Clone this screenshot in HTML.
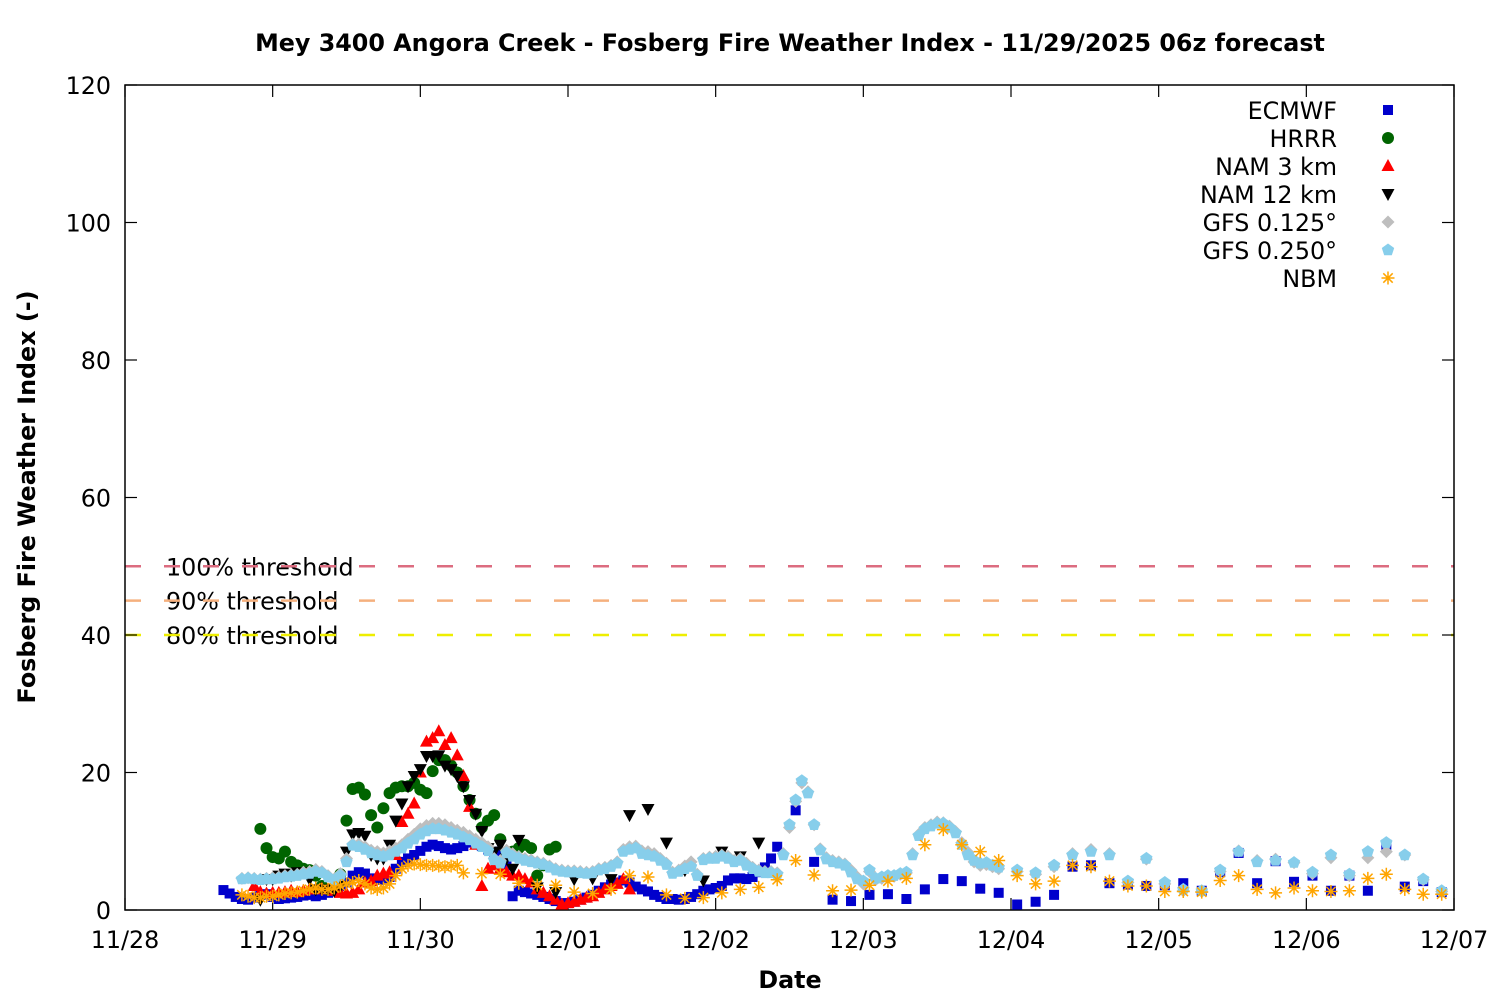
<!DOCTYPE html>
<html><head><meta charset="utf-8"><style>
html,body{margin:0;padding:0;background:#fff}
svg{display:block;font-family:"DejaVu Sans","Liberation Sans",sans-serif}
</style></head><body>
<svg id="chart" width="1500" height="1000" viewBox="0 0 1500 1000">
<rect x="0" y="0" width="1500" height="1000" fill="#fff"/>
<text x="790" y="51" text-anchor="middle" font-size="23.8" font-weight="bold">Mey 3400 Angora Creek - Fosberg Fire Weather Index - 11/29/2025 06z forecast</text>
<text x="790" y="988" text-anchor="middle" font-size="23.8" font-weight="bold">Date</text>
<text transform="translate(35,497) rotate(-90)" text-anchor="middle" font-size="23.8" font-weight="bold">Fosberg Fire Weather Index (-)</text>
<g id="grid"></g>
<g id="marks"></g>
<g id="legend"></g>
</svg>
<script>
// ---- data (hours since 11/28 00:00) ----
const xTickLabels = ["11/28","11/29","11/30","12/01","12/02","12/03","12/04","12/05","12/06","12/07"];
const yTickValues = [0,20,40,60,80,100,120];
const thresholdValues = [50,45,40];
const thresholdLabels = ["100% threshold","90% threshold","80% threshold"];
const seriesNames = ["ECMWF","HRRR","NAM 3 km","NAM 12 km","GFS 0.125°","GFS 0.250°","NBM"];

const ecmwfHourlyStart = 16;
const ecmwfHourly = [2.9,2.4,1.9,1.6,1.5,1.8,2.2,2.3,1.9,1.6,1.7,1.8,1.9,2.1,2.2,2.0,2.2,2.5,2.8,3.5,4.0,5.0,5.5,5.3,4.6,4.4,4.4,4.8,6.0,7.0,7.5,8.0,8.6,9.2,9.5,9.3,9.0,8.8,9.0,9.3,9.8,9.6,9.3,8.8,8.5,8.0,6.5,2.0,2.8,2.6,2.4,2.2,1.9,1.6,1.3,1.0,1.0,1.2,1.5,1.8,2.2,2.8,3.3,3.7,4.0,4.3,4.0,3.4,3.0,2.7,2.2,1.9,1.6,1.6,1.5,1.6,1.9,2.3,2.8,3.0,3.2,3.5,4.3,4.6,4.6,4.5,4.8,5.5,6.2,7.5,9.2];
const ecmwf3hStart = 109;
const ecmwf3h = [14.5,7.0,1.5,1.3,2.2,2.3,1.6,3.0,4.5,4.2,3.1,2.5,0.8,1.2,2.2,6.3,6.5,3.9,3.7,3.5,3.6,3.9,2.8,5.5,8.3,3.9,7.1,4.1,5.0,2.8,5.0,2.8,9.5,3.4,4.2,2.6];

const hrrrStart = 22;
const hrrr = [11.8,9.0,7.7,7.5,8.5,7.0,6.5,6.0,5.8,5.0,3.5,3.0,3.2,5.2,13.0,17.6,17.8,16.8,13.8,12.0,14.8,17.0,17.8,18.0,18.0,18.5,17.5,17.0,20.2,21.8,21.8,21.0,20.0,18.0,16.0,14.0,12.0,13.0,13.8,10.3,8.0,8.5,9.0,9.5,9.0,5.0,6.5,8.8,9.2];

const nam3Start = 21;
const nam3 = [3.5,2.6,2.4,2.5,2.5,2.6,2.8,2.6,2.8,3.0,3.0,3.1,3.0,2.8,2.5,2.4,2.5,3.0,4.0,4.2,5.0,5.3,5.5,8.0,12.8,14.0,15.5,20.0,24.5,25.0,26.0,24.0,25.0,22.5,19.5,15.0,9.5,3.5,6.0,6.5,6.0,5.5,5.0,5.0,4.5,4.0,3.0,2.5,2.0,1.5,0.8,1.0,1.2,1.5,1.8,2.0,2.5,3.0,3.5,3.8,4.5,3.0];

const nam12HourlyStart = 22;
const nam12Hourly = [1.5,4.5,4.5,5.0,5.3,5.0,5.5,5.5,4.5,3.0,3.0,3.0,2.8,3.5,8.5,11.0,11.2,10.8,8.0,7.5,7.5,9.5,13.0,15.5,18.0,19.5,20.5,22.4,22.4,22.5,21.0,20.5,19.5,18.0,16.0,14.0,11.5,9.0,8.5,9.5,7.5,6.0];
const nam12_3hStart = 64;
const nam12_3h = [10.2,3.3,2.6,4.5,4.6,4.5,13.8,14.7,9.8,5.8,4.3,8.5,7.8,9.8];

const gfs125HourlyStart = 19;
const gfs125Hourly = [4.6,4.7,4.6,4.5,4.6,4.7,4.8,5.0,5.1,5.2,5.5,5.6,5.9,5.6,5.0,4.5,5.3,7.5,9.6,9.6,9.2,8.7,8.5,8.3,8.6,9.0,9.5,10.3,11.0,11.8,12.3,12.6,12.6,12.4,12.0,11.6,11.3,10.8,10.3,9.8,9.2,7.5,7.2,8.7,8.2,7.8,7.5,7.3,7.0,6.8,6.4,6.0,5.8,5.7,5.7,5.6,5.5,5.6,6.0,6.2,6.5,7.0,8.8,9.2,9.3,8.6,8.5,8.2,7.5,6.8,5.5,5.8,6.4,7.0,5.2,7.5,7.7,7.8,8.0,7.8,7.2,7.5,6.8,6.2,5.8,5.6,5.6,5.4,8.2,12.0,15.8,18.5,17.2,12.4,8.9,7.6,7.2,7.0,6.7,5.8,4.8,3.8,5.6,4.4,4.6,4.8,4.9,5.2,5.4,8.2,11.0,12.0,12.4,12.8,12.7,12.2,11.4,9.8,8.4,7.0,6.5,6.6,6.3,6.0];
const gfs125_3hStart = 145;
const gfs125_3h = [5.6,5.2,6.3,8.2,8.8,8.2,4.0,7.4,3.8,2.8,2.7,5.6,8.6,7.2,7.4,6.9,5.3,7.6,5.0,7.6,8.5,8.0,4.4,2.7];

const gfs25HourlyStart = 19;
const gfs25Hourly = [4.5,4.6,4.5,4.4,4.5,4.5,4.6,4.8,4.9,5.0,5.2,5.3,5.6,5.4,4.8,4.3,5.0,7.0,9.4,9.2,8.8,8.3,8.0,7.8,8.0,8.5,9.0,9.7,10.3,11.0,11.5,11.8,11.8,11.6,11.3,11.0,10.6,10.2,9.7,9.2,8.6,7.3,6.8,8.3,7.8,7.5,7.2,7.0,6.8,6.6,6.2,5.8,5.6,5.5,5.5,5.4,5.3,5.4,5.8,6.0,6.3,6.8,8.5,8.8,9.0,8.2,8.0,7.8,7.2,6.6,5.3,5.6,6.0,6.3,5.0,7.3,7.5,7.5,7.8,7.5,7.0,7.2,6.5,6.0,5.6,5.4,5.4,5.2,8.0,12.4,16.0,18.8,17.0,12.4,8.7,7.4,7.0,6.8,6.5,5.5,4.5,4.2,5.8,4.6,4.8,5.0,5.0,5.3,5.5,8.0,10.8,11.8,12.2,12.6,12.6,12.0,11.2,9.5,8.0,7.2,6.8,6.9,6.5,6.2];
const gfs25_3hStart = 145;
const gfs25_3h = [5.8,5.4,6.5,8.0,8.5,8.0,4.2,7.5,4.0,3.0,2.8,5.8,8.5,7.0,7.2,6.9,5.5,8.0,5.2,8.5,9.8,8.0,4.5,2.8];

const nbmHourlyStart = 19;
const nbmHourly = [2.2,2.0,1.8,1.8,2.0,2.0,2.2,2.4,2.5,2.6,2.8,3.0,3.2,3.0,3.0,3.2,3.5,3.8,4.0,4.3,3.8,3.2,3.0,3.2,3.8,5.0,6.0,6.5,6.7,6.6,6.5,6.5,6.4,6.3,6.4,6.5];
const nbm3hStart = 55;
const nbm3h = [5.4,5.3,5.2,3.9,3.6,3.6,2.6,2.4,3.0,5.0,4.8,2.2,1.7,1.8,2.5,3.0,3.3,4.4,7.2,5.1,2.8,2.9,3.6,4.2,4.6,9.5,11.7,9.5,8.5,7.2,5.0,3.8,4.2,6.5,6.3,4.2,3.5,3.5,2.7,2.7,2.6,4.3,5.0,3.0,2.5,3.2,2.8,2.7,2.8,4.6,5.2,3.0,2.3,2.3];

// ---- axes ----
const X0=125, X1=1454, Y0=910, Y1=85, HMAX=216, VMAX=120;
const xScale = h => X0 + (X1-X0)*h/HMAX;
const yScale = v => Y0 - (Y0-Y1)*v/VMAX;
const FS=23.8;
const NS="http://www.w3.org/2000/svg";
function mk(tag, attrs, parent){const e=document.createElementNS(NS,tag);for(const k in attrs)e.setAttribute(k,attrs[k]);parent.appendChild(e);return e;}
const grid=document.getElementById('grid'), marks=document.getElementById('marks'), legend=document.getElementById('legend');

// thresholds
const thrColors=["#dc6c80","#f5b07e","#eeee00"];
thresholdValues.forEach((v,i)=>{
  const y=yScale(v);
  const t=mk('text',{x:166,y:y+9,'font-size':FS},grid);
  t.textContent=thresholdLabels[i];
  
  
  const l=mk('line',{x1:X0,x2:X1,y1:y,y2:y,stroke:thrColors[i],'stroke-width':2.5,'stroke-dasharray':'16 23'},grid);
  
  
});

// frame
const fr=mk('rect',{x:X0,y:Y1,width:X1-X0,height:Y0-Y1,fill:'none',stroke:'#000','stroke-width':1.5},grid);



yTickValues.forEach(v=>{
  const y=yScale(v);
  mk('line',{x1:X0,x2:X0+12,y1:y,y2:y,stroke:'#000','stroke-width':1.2},grid);
  mk('line',{x1:X1-12,x2:X1,y1:y,y2:y,stroke:'#000','stroke-width':1.2},grid);
  const t=mk('text',{x:111,y:y+9,'text-anchor':'end','font-size':FS},grid);
  t.textContent=v;
  
  
});
xTickLabels.forEach((s,i)=>{
  const x=xScale(i*24);
  mk('line',{x1:x,x2:x,y1:Y0,y2:Y0-12,stroke:'#000','stroke-width':1.2},grid);
  mk('line',{x1:x,x2:x,y1:Y1,y2:Y1+12,stroke:'#000','stroke-width':1.2},grid);
  const t=mk('text',{x:x,y:948,'text-anchor':'middle','font-size':FS},grid);
  t.textContent=s;
  
  
});

// markers
function marker(kind,color,x,y,parent){
  let e;
  if(kind==='square') e=mk('rect',{x:x-5,y:y-5,width:10,height:10,fill:color},parent);
  else if(kind==='circle') e=mk('circle',{cx:x,cy:y,r:6,fill:color},parent);
  else if(kind==='tri-up') e=mk('polygon',{points:`${x},${y-7} ${x+6.5},${y+5} ${x-6.5},${y+5}`,fill:color},parent);
  else if(kind==='tri-down') e=mk('polygon',{points:`${x},${y+7} ${x+6.5},${y-5} ${x-6.5},${y-5}`,fill:color},parent);
  else if(kind==='diamond') e=mk('polygon',{points:`${x},${y-6.5} ${x+6.5},${y} ${x},${y+6.5} ${x-6.5},${y}`,fill:color},parent);
  else if(kind==='pentagon'){let p=[];for(let k=0;k<5;k++){const a=-Math.PI/2+k*2*Math.PI/5;p.push((x+6.5*Math.cos(a)).toFixed(1)+','+(y+6.5*Math.sin(a)).toFixed(1));}e=mk('polygon',{points:p.join(' '),fill:color},parent);}
  else { e=mk('path',{d:`M${x-6.5} ${y}H${x+6.5}M${x} ${y-6.5}V${y+6.5}M${x-4.7} ${y-4.7}L${x+4.7} ${y+4.7}M${x-4.7} ${y+4.7}L${x+4.7} ${y-4.7}`,stroke:color,'stroke-width':1.5,fill:'none'},parent);}
  return e;
}
function plotSeries(name,kind,color,segments){
  const g=mk('g',{},marks);
  
  
  segments.forEach(([start,step,vals])=>{
    vals.forEach((v,i)=>{
      const m=marker(kind,color,xScale(start+i*step),yScale(v),g);
      
      
    });
  });
}
const kinds=['square','circle','tri-up','tri-down','diamond','pentagon','star'];
const colors=['#0000cc','#006400','#ff0000','#000000','#bebebe','#87ceeb','#ffa500'];
plotSeries('ecmwf',kinds[0],colors[0],[[ecmwfHourlyStart,1,ecmwfHourly],[ecmwf3hStart,3,ecmwf3h]]);
plotSeries('hrrr',kinds[1],colors[1],[[hrrrStart,1,hrrr]]);
plotSeries('nam-3km',kinds[2],colors[2],[[nam3Start,1,nam3]]);
plotSeries('nam-12km',kinds[3],colors[3],[[nam12HourlyStart,1,nam12Hourly],[nam12_3hStart,3,nam12_3h]]);
plotSeries('gfs-0125',kinds[4],colors[4],[[gfs125HourlyStart,1,gfs125Hourly],[gfs125_3hStart,3,gfs125_3h]]);
plotSeries('gfs-0250',kinds[5],colors[5],[[gfs25HourlyStart,1,gfs25Hourly],[gfs25_3hStart,3,gfs25_3h]]);
plotSeries('nbm',kinds[6],colors[6],[[nbmHourlyStart,1,nbmHourly],[nbm3hStart,3,nbm3h]]);

// legend
seriesNames.forEach((n,i)=>{
  const y=110+i*28;
  const t=mk('text',{x:1337,y:y+9,'text-anchor':'end','font-size':FS},legend);
  t.textContent=n;
  
  
  const m=marker(kinds[i],colors[i],1388,y,legend);
  
  
});
</script>
</body></html>
